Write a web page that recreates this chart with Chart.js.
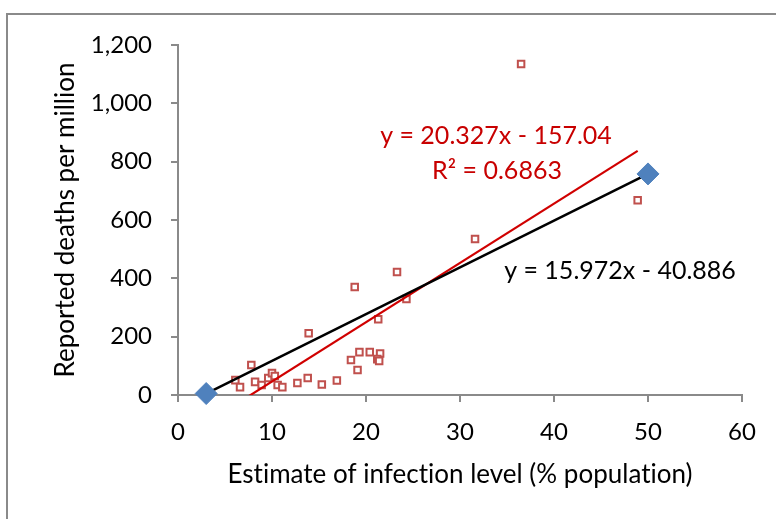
<!DOCTYPE html>
<html><head><meta charset="utf-8">
<script src="https://cdn.jsdelivr.net/npm/chart.js@4"></script>
<style>
html,body{margin:0;padding:0;width:776px;height:519px;overflow:hidden;background:#fff}
#frame{position:absolute;left:6px;top:13px;width:800px;height:540px;border:2px solid #8a8a8a;box-sizing:border-box}
#wrap{position:absolute;left:0;top:0;width:776px;height:519px}
</style></head>
<body><div id="frame"></div><div id="wrap"><canvas id="c" width="776" height="519"></canvas></div>
<script>
// Observed countries: infection estimate (%) vs reported deaths per million
const infectionPct = [6.1, 6.6, 7.8, 8.2, 8.9, 9.6, 10.0, 10.3, 10.6, 11.1, 12.7, 13.8, 15.3, 16.9, 13.9, 18.4, 19.1, 19.3, 20.4, 21.5, 21.2, 21.4, 21.3, 18.8, 23.3, 24.3, 31.6, 36.5, 48.9];
const deathsPerMillion = [51, 27, 103, 45, 34, 58, 75, 65, 34, 27, 41, 58, 36, 50, 212, 120, 86, 147, 147, 142, 123, 117, 260, 370, 422, 329, 535, 1135, 668];
// Reference points (blue diamonds) joined by black line
const refX = [3, 50];
const refY = [5, 758];
// Linear fit of observed points (red line) endpoints
const fitX = [6.1, 48.9];
const fitY = [-33, 837];
// Axis ticks
const xTicks = [0, 10, 20, 30, 40, 50, 60];
const yTicks = [0, 200, 400, 600, 800, 1000, 1200];
const fitLabels = ['y = 20.327x - 157.04', 'R\u00b2 = 0.6863'];
const refLabel = 'y = 15.972x - 40.886';
const xTitle = 'Estimate of infection level (% population)';
const yTitle = 'Reported deaths per million';

const FONT = "Lato, 'Open Sans', 'Noto Sans', sans-serif";
const pts = (xs, ys) => xs.map((x, i) => ({x: x, y: ys[i]}));

const noLigatures = {
  id: 'noLig',
  beforeDraw(chart) { try { chart.ctx.letterSpacing = '0.01px'; } catch (e) {} }
};

const textPlugin = {
  id: 'eqText',
  afterDatasetsDraw(chart) {
    const ctx = chart.ctx;
    const a = chart.chartArea;
    ctx.save();
    ctx.font = '25px ' + FONT;
    ctx.textAlign = 'center';
    ctx.textBaseline = 'middle';
    ctx.fillStyle = '#C80000';
    ctx.fillText(fitLabels[0], a.left + 318, a.top + 91);
    ctx.fillText(fitLabels[1], a.left + 319, a.top + 126);
    ctx.fillStyle = '#000000';
    ctx.fillText(refLabel, a.left + 442, a.top + 226);
    ctx.restore();
  }
};

new Chart(document.getElementById('c'), {
  type: 'scatter',
  data: {
    datasets: [
      {
        label: 'Reference',
        data: pts(refX, refY),
        showLine: true,
        clip: false,
        borderColor: '#000000',
        borderWidth: 2.5,
        pointStyle: 'rectRot',
        pointRadius: 11,
        pointBackgroundColor: '#4F81BD',
        pointBorderColor: '#4F81BD',
        pointBorderWidth: 1,
        order: 1
      },
      {
        label: 'Fit',
        data: pts(fitX, fitY),
        showLine: true,
        borderColor: '#D00000',
        borderWidth: 2.2,
        pointRadius: 0,
        order: 2
      },
      {
        label: 'Countries',
        data: pts(infectionPct, deathsPerMillion),
        pointStyle: 'rect',
        pointRadius: 4.6,
        pointBackgroundColor: '#ffffff',
        pointBorderColor: '#C0504D',
        pointBorderWidth: 2,
        order: 3
      }
    ]
  },
  options: {
    responsive: false,
    animation: false,
    events: [],
    layout: {padding: {left: 0, top: 45, right: 34, bottom: 0}},
    plugins: {legend: {display: false}, tooltip: {enabled: false}},
    scales: {
      x: {
        type: 'linear',
        min: 0, max: 60,
        afterFit(s) { s.height = 124; },
        afterBuildTicks(s) { s.ticks = xTicks.map(v => ({value: v})); },
        ticks: {color: '#000', font: {family: FONT, size: 24}, padding: 16},
        grid: {drawOnChartArea: false, drawTicks: true, tickLength: 7, color: '#8a8a8a', lineWidth: 2},
        border: {color: '#8a8a8a', width: 2},
        title: {display: true, text: xTitle, color: '#000', font: {family: FONT, size: 26}, padding: {bottom: 29, top: 0}}
      },
      y: {
        type: 'linear',
        min: 0, max: 1200,
        afterFit(s) { s.width = 178; },
        afterBuildTicks(s) { s.ticks = yTicks.map(v => ({value: v})); },
        ticks: {color: '#000', font: {family: FONT, size: 24}, padding: 19,
          callback: v => v.toLocaleString('en-US')},
        grid: {drawOnChartArea: false, drawTicks: true, tickLength: 7, color: '#8a8a8a', lineWidth: 2},
        border: {color: '#8a8a8a', width: 2},
        title: {display: true, text: yTitle, color: '#000', font: {family: FONT, size: 26}, padding: {top: 50, bottom: 0}}
      }
    }
  },
  plugins: [noLigatures, textPlugin]
});
</script>
</body></html>
